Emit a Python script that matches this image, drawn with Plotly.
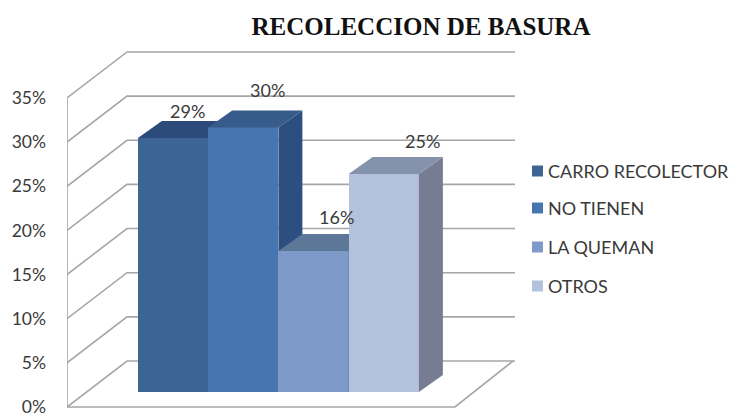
import plotly.graph_objects as go

# --- data ---
categories = ["CARRO RECOLECTOR", "NO TIENEN", "LA QUEMAN", "OTROS"]
values = [29, 30.2, 16.1, 24.9]
tick_vals = [0, 5, 10, 15, 20, 25, 30, 35]
tick_text = ["0%", "5%", "10%", "15%", "20%", "25%", "30%", "35%"]
title_text = "RECOLECCION DE BASURA"

# --- styles ---
front_colors = ["#3C6494", "#4675B0", "#7E9AC8", "#B4C1DD"]
top_colors = ["#2C4B7B", "#375C8C", "#5D7799", "#8592AB"]
side_colors = ["#2C4B7B", "#2D4F80", "#56709A", "#767D93"]
label_shift_x = [14, 24, 23, 39]
label_shift_y = [27, 37, 34, 33]
GRID = "#A6A6A6"
TEXT = "#3A3A3A"
FONT = "Lato, Carlito, sans-serif"

W, H = 729, 414
EXTRA = 14              # figure runs past the window so the clipped 0% label still draws
LEFT = 67
BAR_W = 70.25           # px per category
FIRST_CENTER = 173      # px
Y0_WALL, K_WALL = 407, 8.83   # wall scale: pixel of 0%, px per %
Y0_BAR, K_BAR = 392, 8.76     # bar plane scale


def xu(px):
    return (px - FIRST_CENTER) / BAR_W


x_range = [xu(LEFT), xu(W)]
wall_range = [(Y0_WALL - H) / K_WALL, Y0_WALL / K_WALL]
bar_range = [(Y0_BAR - H) / K_BAR, Y0_BAR / K_BAR]
bar_dx = 24 / BAR_W
bar_dy = 17 / K_BAR
wall_x0, wall_x1 = xu(67), xu(127)
wall_end = xu(515)
floor_x0, floor_x1 = xu(455), xu(513)
wall_dy = 46 / K_WALL

fig = go.Figure()

# Walls and floor
gx, gy = [wall_x0, wall_x0, None], [tick_vals[0], tick_vals[-1], None]
for t in tick_vals:
    gx += [wall_x0, wall_x1, wall_end, None]
    gy += [t, t + wall_dy, t + wall_dy, None]
gx += [wall_x0, floor_x0, floor_x1]
gy += [0, 0, wall_dy]
fig.add_trace(go.Scatter(x=gx, y=gy, mode="lines", line=dict(color=GRID, width=1.6),
                         hoverinfo="skip", showlegend=False, xaxis="x", yaxis="y", cliponaxis=False))

# One overlaid axis per bar, so the bars paint left to right
for i, (name, v) in enumerate(zip(categories, values)):
    ya = f"y{i + 2}"
    fig.add_trace(go.Bar(x=[i], y=[v], width=1, name=name, showlegend=False,
                         marker=dict(color=front_colors[i], line=dict(width=0)),
                         xaxis="x", yaxis=ya))
    l, r = i - 0.5, i + 0.5
    fig.add_trace(go.Scatter(
        x=[r, r, r + bar_dx, r + bar_dx, r], y=[0, v, v + bar_dy, bar_dy, 0],
        mode="lines", fill="toself", fillcolor=side_colors[i], line=dict(width=0),
        hoverinfo="skip", showlegend=False, xaxis="x", yaxis=ya))
    fig.add_trace(go.Scatter(
        x=[l, r, r + bar_dx, l + bar_dx, l], y=[v, v, v + bar_dy, v + bar_dy, v],
        mode="lines", fill="toself", fillcolor=top_colors[i], line=dict(width=0),
        hoverinfo="skip", showlegend=False, xaxis="x", yaxis=ya))

layout = dict(
    width=W, height=H + EXTRA,
    margin=dict(l=LEFT, r=0, t=0, b=EXTRA),
    paper_bgcolor="white", plot_bgcolor="white",
    showlegend=False, bargap=0,
    title=dict(text=f"<b>{title_text}</b>", x=421 / W, xanchor="center", xref="container",
               y=1 - 26 / (H + EXTRA), yanchor="middle", yref="container",
               font=dict(family="Liberation Serif", size=25, color="#111111")),
    xaxis=dict(range=x_range, visible=False, fixedrange=True),
    yaxis=dict(range=wall_range, tickvals=tick_vals, ticktext=tick_text, showgrid=False,
               zeroline=False, showline=False, ticks="", ticklabelstandoff=20,
               tickfont=dict(family=FONT, size=17.5, color=TEXT), fixedrange=True),
)
for i in range(len(values)):
    layout[f"yaxis{i + 2}"] = dict(range=bar_range, overlaying="y", visible=False, fixedrange=True)

annotations = []
for i, v in enumerate(values):
    annotations.append(dict(x=i, y=v, xref="x", yref=f"y{i + 2}", text=f"{v:.0f}%", showarrow=False,
                            xshift=label_shift_x[i], yshift=label_shift_y[i],
                            font=dict(family=FONT, size=18, color=TEXT)))

# Legend key
legend_y = [171, 208, 247, 286]
shapes = []
for name, c, py in zip(categories, front_colors, legend_y):
    shapes.append(dict(type="rect", xref="x domain", yref="y domain",
                       x0=(532 - LEFT) / (W - LEFT), x1=(543 - LEFT) / (W - LEFT),
                       y0=1 - (py + 5.5) / H, y1=1 - (py - 5.5) / H,
                       fillcolor=c, line=dict(width=0)))
    annotations.append(dict(x=(546 - LEFT) / (W - LEFT), y=1 - py / H, xref="x domain", yref="y domain",
                            xanchor="left", yanchor="middle", text=name, showarrow=False,
                            font=dict(family=FONT, size=18, color=TEXT)))

fig.update_layout(**layout, annotations=annotations, shapes=shapes)
fig.write_html("out.html", config=dict(displayModeBar=False),
               post_script="document.body.style.margin='0';document.documentElement.style.overflow='hidden';document.body.style.overflow='hidden';")
